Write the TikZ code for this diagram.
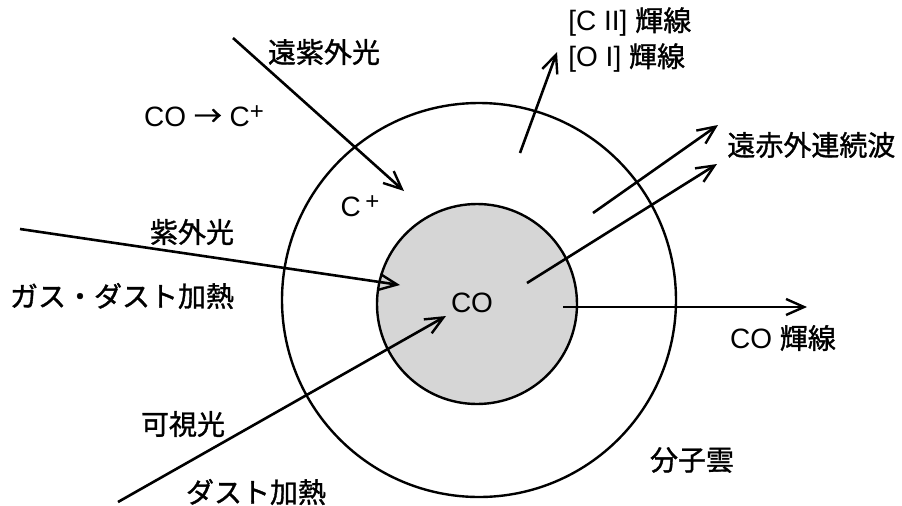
\documentclass[tikz,border=0pt]{standalone}
\usepackage{fontspec}
\setmainfont{Liberation Sans}
\newfontfamily\jp{Noto Sans CJK JP}[FakeBold=1.2]
\usetikzlibrary{arrows.meta}
\definecolor{ink}{RGB}{0,0,0}
\definecolor{dust}{RGB}{214,214,214}
\newcommand{\ion}{\raisebox{0.45ex}{\fontsize{12}{12}\selectfont+}}
\tikzset{
  >={Straight Barb[length=9pt,width=8pt,line width=1.2pt]},
  ray/.style={->,line width=1.3pt,draw=ink},
  shell/.style={circle,draw=ink,line width=1.2pt,inner sep=0pt},
  lbl/.style={font=\fontsize{14}{16}\selectfont,inner sep=0pt,text=ink},
}

\begin{document}
\begin{tikzpicture}[x=0.5pt,y=-0.5pt]
  \useasboundingbox (0,0) rectangle (902,505);
  % cloud and its CO core
  \node[shell,minimum size=197pt] (cloud) at (479,300) {};
  \node[shell,fill=dust,minimum size=100pt] (core) at (477,304) {};
  \node[lbl] (co) at (472,303) {CO};
  \node[lbl] (cplus) at (360,206) {C\,\ion};
  \node[lbl] (mc) at (692,460) {\jp 分子雲};
  % incoming light
  \coordinate (fuv0) at (233,38);  \coordinate (fuv1) at (404,191);
  \coordinate (uv0) at (20,229);   \coordinate (uv1) at (400,285);
  \coordinate (vis0) at (118,502); \coordinate (vis1) at (446,316);
  \foreach \a in {fuv,uv,vis} \draw[ray] (\a0) -- (\a1);
  \node[lbl] (fuv) at (324,52) {\jp 遠紫外光};
  \node[lbl] (diss) at (204,116) {CO {\jp →} C\ion};
  \node[lbl] (uv) at (192,232) {\jp 紫外光};
  \node[lbl] (gasheat) at (122,296) {\jp ガス・ダスト加熱};
  \node[lbl] (vis) at (183,424) {\jp 可視光};
  \node[lbl] (dustheat) at (256,492) {\jp ダスト加熱};
  % outgoing emission
  \coordinate (fs0) at (520,153);  \coordinate (fs1) at (557,52);
  \coordinate (fa0) at (593,213);  \coordinate (fa1) at (718,125);
  \coordinate (fb0) at (527,283);  \coordinate (fb1) at (717,164);
  \coordinate (col0) at (563,307); \coordinate (col1) at (807,307);
  \foreach \a in {fs,fa,fb,col} \draw[ray] (\a0) -- (\a1);
  \node[lbl,anchor=west] (cii) at (568,22) {[C II] {\jp 輝線}};
  \node[lbl,anchor=west] (oi) at (568,58) {[O I] {\jp 輝線}};
  \node[lbl,anchor=west] (fir) at (727,145) {\jp 遠赤外連続波};
  \node[lbl] (coline) at (783,338) {CO {\jp 輝線}};
\end{tikzpicture}
\end{document}
